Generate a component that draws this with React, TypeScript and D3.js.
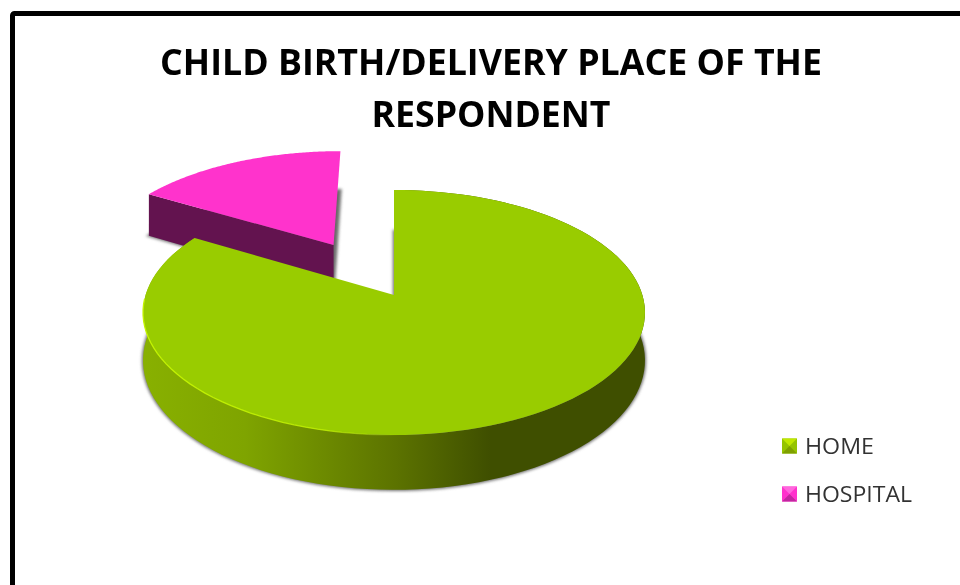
import React, { useEffect, useRef } from 'react';
import * as d3 from 'd3';

const categories = ['HOME', 'HOSPITAL'];
const shares = [83.5, 16.5];
const titleLines = ['CHILD BIRTH/DELIVERY PLACE OF THE', 'RESPONDENT'];
const topColors = ['#99cc00', '#ff33cc'];
const sideColors = ['#3f4f00', '#63134f'];
const legendDark = ['#7fa000', '#c228a0'];
const legendLight = ['#c0e800', '#ff66dd'];
const legendMid = ['#95c400', '#ff33cc'];

const width = 960;
const height = 585;

// perspective of the tilted disc
const cx = 394;
const cy = 295;
const radiusX = 248.4;
const radiusY = 120;
const tilt = 1 / 7;
const depth = 47;
const explode = 0.5;

type Pt = [number, number];

const project = (u: number, v: number, h: number): Pt => {
  const w = 1 + tilt * v;
  return [cx + (radiusX * u) / w, cy - (radiusY * v) / w + (depth * h) / w];
};

const rim = (a0: number, a1: number, h: number, ox = 0, oy = 0): Pt[] =>
  d3.range(0, 121).map((i) => {
    const a = a0 + ((a1 - a0) * i) / 120;
    return project(ox + Math.sin(a), oy + Math.cos(a), h);
  });

const line = d3.line<Pt>();

export default function App() {
  const ref = useRef<SVGSVGElement>(null);

  useEffect(() => {
    const svg = d3.select(ref.current);
    svg.selectAll('*').remove();

    const arcs = d3.pie<number>().sort(null).startAngle(0).endAngle(2 * Math.PI)(shares);
    const home = arcs[0];
    const hospital = arcs[1];
    const mid = (hospital.startAngle + hospital.endAngle) / 2;
    const ox = explode * Math.sin(mid);
    const oy = explode * Math.cos(mid);

    const defs = svg.append('defs');
    const blur = (id: string, dev: number) =>
      defs.append('filter').attr('id', id).attr('x', '-10%').attr('y', '-10%').attr('width', '120%').attr('height', '120%')
        .append('feGaussianBlur').attr('stdDeviation', dev);
    blur('soft', 1.5);
    blur('edge', 0.7);
    blur('text', 0.4);

    const wallGrad = defs.append('linearGradient').attr('id', 'wall')
      .attr('gradientUnits', 'userSpaceOnUse').attr('x1', 145).attr('x2', 645).attr('y1', 0).attr('y2', 0);
    [[0, '#88b000'], [0.2, '#7fa400'], [0.5, '#5c7300'], [0.69, '#3f4f00'], [1, '#3f4f00']].forEach(([o, c]) =>
      wallGrad.append('stop').attr('offset', o as number).attr('stop-color', c as string));

    const rimGrad = defs.append('linearGradient').attr('id', 'rimGlow')
      .attr('gradientUnits', 'userSpaceOnUse').attr('x1', 145).attr('x2', 400).attr('y1', 0).attr('y2', 0);
    rimGrad.append('stop').attr('offset', 0).attr('stop-color', '#c4f500').attr('stop-opacity', 1);
    rimGrad.append('stop').attr('offset', 0.7).attr('stop-color', '#c4f500').attr('stop-opacity', 0.8);
    rimGrad.append('stop').attr('offset', 1).attr('stop-color', '#c4f500').attr('stop-opacity', 0);

    // frame
    svg.append('rect').attr('x', 12.5).attr('y', 13.5).attr('width', width + 40).attr('height', height + 40)
      .attr('rx', 2).attr('fill', '#fff').attr('stroke', '#000').attr('stroke-width', 5);

    // title
    svg.selectAll('text.title').data(titleLines).enter().append('text')
      .attr('class', 'title')
      .attr('x', 491)
      .attr('y', (_, i) => 75 + i * 52)
      .attr('text-anchor', 'middle')
      .attr('filter', 'url(#text)')
      .style('font-family', '"Open Sans"')
      .style('font-weight', 'bold')
      .style('font-size', '35px')
      .attr('textLength', (_, i) => (i === 0 ? 662 : 239))
      .attr('lengthAdjust', 'spacingAndGlyphs')
      .text((d) => d);

    // hospital slice, pulled out along its bisector
    const hospTop = rim(hospital.startAngle, hospital.endAngle, 0, ox, oy);
    const hospApex0 = project(ox, oy, 0);
    const hospApex1 = project(ox, oy, 1);
    const hospBottom = rim(hospital.startAngle, hospital.endAngle, 1, ox, oy);
    const hosp = svg.append('g').attr('transform', 'translate(-2.5,-1)');
    hosp.append('path')
      .attr('d', line([hospApex1, ...hospBottom])! + 'Z')
      .attr('fill', '#666').attr('stroke', '#777').attr('stroke-width', 2.5).attr('filter', 'url(#soft)');
    hosp.append('path')
      .attr('d', line([hospTop[0], hospApex0, hospApex1, hospBottom[0]])! + 'Z')
      .attr('fill', sideColors[1]);
    hosp.append('path')
      .attr('d', line([hospApex0, ...hospTop])! + 'Z')
      .attr('fill', topColors[1]);

    // home slice
    const homeTop = rim(home.startAngle, home.endAngle, 0);
    const homeBottom = rim(home.startAngle, home.endAngle, 1);
    const apex0 = project(0, 0, 0);
    const apex1 = project(0, 0, 1);
    svg.append('path')
      .attr('d', line([apex1, ...homeBottom])! + 'Z')
      .attr('fill', '#666').attr('stroke', '#777').attr('stroke-width', 2.5).attr('filter', 'url(#soft)');
    svg.append('path')
      .attr('d', line([...homeTop, ...homeBottom.slice().reverse()])! + 'Z')
      .attr('fill', 'url(#wall)');
    svg.append('path')
      .attr('d', line([apex0, ...homeTop])! + 'Z')
      .attr('fill', topColors[0]);
    svg.append('path')
      .attr('d', line(homeTop.filter((p) => p[1] > cy))!)
      .attr('fill', 'none').attr('stroke', 'url(#rimGlow)').attr('stroke-width', 1.3).attr('filter', 'url(#edge)');

    // legend
    const legendY = d3.scalePoint<string>().domain(categories).range([446, 494]);
    const box = 7.5;
    const bx = 789.5;
    const item = svg.selectAll('g.legend').data(categories).enter().append('g')
      .attr('class', 'legend')
      .attr('transform', (d) => `translate(0,${legendY(d)})`);
    const marker = item.append('g').attr('filter', 'url(#text)');
    marker.append('rect').attr('x', bx - box).attr('y', -box).attr('width', 2 * box).attr('height', 2 * box)
      .attr('fill', (_, i) => legendMid[i]);
    marker.append('path').attr('d', line([[bx - box, -box], [bx + box, -box], [bx, 0]])! + 'Z')
      .attr('fill', (_, i) => legendLight[i]);
    marker.append('path').attr('d', line([[bx - box, box], [bx + box, box], [bx, 0]])! + 'Z')
      .attr('fill', (_, i) => legendDark[i]);
    item.append('text')
      .attr('x', 805)
      .attr('y', 8)
      .attr('filter', 'url(#text)')
      .style('font-family', '"Open Sans"')
      .style('font-size', '22px')
      .attr('fill', '#333')
      .attr('textLength', (_, i) => (i === 0 ? 69 : 107))
      .attr('lengthAdjust', 'spacingAndGlyphs')
      .text((d) => d);
  }, []);

  return (
    <svg
      ref={ref}
      width={width}
      height={height}
      style={{ position: 'absolute', left: 0, top: 0, display: 'block' }}
    />
  );
}
